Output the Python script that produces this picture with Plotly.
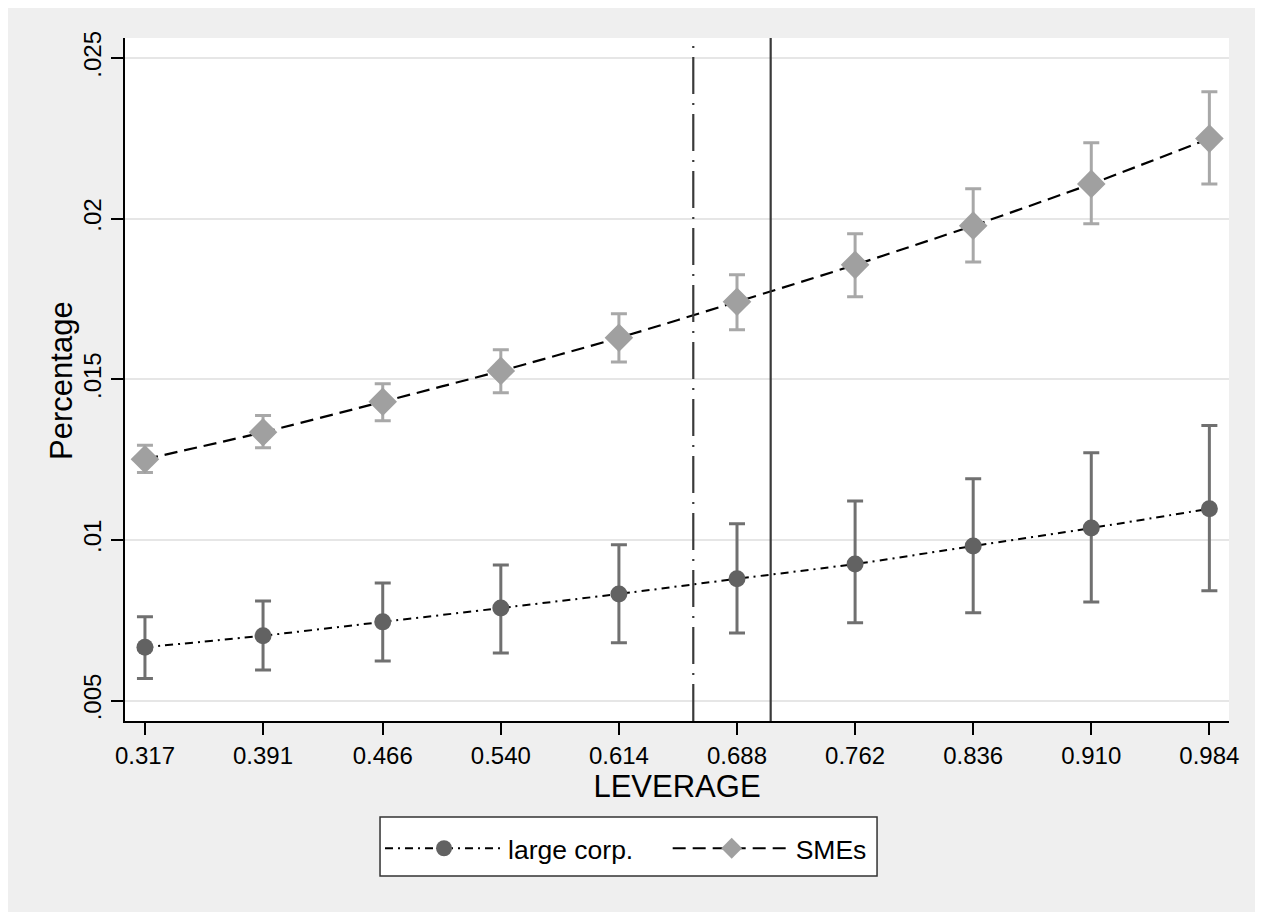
import plotly.graph_objects as go

leverage = [0.317, 0.391, 0.466, 0.540, 0.614, 0.688, 0.762, 0.836, 0.910, 0.984]
tick_labels = ["0.317", "0.391", "0.466", "0.540", "0.614", "0.688", "0.762", "0.836", "0.910", "0.984"]

large_mean = [0.00666, 0.00702, 0.00745, 0.00788, 0.00832, 0.00879, 0.00925, 0.00981, 0.01037, 0.01097]
large_hi = [0.00761, 0.00810, 0.00866, 0.00922, 0.00985, 0.01050, 0.01121, 0.01190, 0.01271, 0.01356]
large_lo = [0.00569, 0.00595, 0.00623, 0.00648, 0.00680, 0.00710, 0.00742, 0.00773, 0.00807, 0.00842]

sme_mean = [0.01251, 0.01335, 0.01430, 0.01526, 0.01629, 0.01741, 0.01856, 0.01978, 0.02108, 0.02249]
sme_hi = [0.01295, 0.01387, 0.01486, 0.01592, 0.01704, 0.01825, 0.01953, 0.02093, 0.02236, 0.02395]
sme_lo = [0.01210, 0.01287, 0.01371, 0.01458, 0.01554, 0.01654, 0.01757, 0.01865, 0.01984, 0.02108]

vline_dashdot = 0.6606
vline_solid = 0.7091

y_ticks = [0.005, 0.01, 0.015, 0.02, 0.025]
y_tick_text = [".005", ".01", ".015", ".02", ".025"]

FONT = "Liberation Sans, Arial, sans-serif"
NB = "\u00a0"

fig = go.Figure()

fig.add_trace(go.Scatter(
    x=leverage, y=large_mean, name="large corp." + NB * 4,
    mode="lines+markers",
    line=dict(color="black", width=2, dash="8px,5px,2px,5px", shape="spline", smoothing=0.6),
    marker=dict(symbol="circle", size=17, color="#626262"),
    error_y=dict(type="data", symmetric=False,
                 array=[h - m for h, m in zip(large_hi, large_mean)],
                 arrayminus=[m - l for m, l in zip(large_mean, large_lo)],
                 color="#707070", thickness=3, width=8),
))

fig.add_trace(go.Scatter(
    x=leverage, y=sme_mean, name="SMEs",
    mode="lines+markers",
    line=dict(color="black", width=2.2, dash="13px,7px", shape="spline", smoothing=0.6),
    marker=dict(symbol="diamond", size=22, color="#a0a0a0"),
    error_y=dict(type="data", symmetric=False,
                 array=[h - m for h, m in zip(sme_hi, sme_mean)],
                 arrayminus=[m - l for m, l in zip(sme_mean, sme_lo)],
                 color="#a8a8a8", thickness=3, width=8),
))

fig.add_shape(type="line", xref="x", yref="paper", x0=vline_dashdot, x1=vline_dashdot, y0=0, y1=1,
              line=dict(color="#3a3a3a", width=2.2, dash="37px,9px,2px,9px"))
fig.add_shape(type="line", xref="x", yref="paper", x0=vline_solid, x1=vline_solid, y0=0, y1=1,
              line=dict(color="#3a3a3a", width=2.2))

# legend frame
fig.add_shape(type="rect", xref="paper", yref="paper", x0=0.2310, x1=0.6812, y0=-0.2269, y1=-0.1406,
              fillcolor="white", line=dict(color="#333333", width=1.5), layer="below")

fig.add_annotation(text="Percentage", xref="paper", yref="paper", x=-0.0571, y=0.4993,
                   xanchor="center", yanchor="middle", textangle=-90, showarrow=False,
                   font=dict(size=31, family=FONT, color="black"))

fig.update_layout(
    width=1263, height=912,
    margin=dict(l=117, r=42, t=30, b=199),
    paper_bgcolor="#efefef",
    plot_bgcolor="white",
    font=dict(family=FONT, color="black", size=24),
    showlegend=True,
    legend=dict(
        orientation="h", x=0.2310, xanchor="left", y=-0.1867, yanchor="middle",
        bgcolor="rgba(0,0,0,0)", borderwidth=0,
        font=dict(size=26.5, family=FONT), itemwidth=118,
        tracegroupgap=0,
    ),
    xaxis=dict(
        range=[0.3045, 0.9963], tickmode="array", tickvals=leverage, ticktext=tick_labels,
        showgrid=False, zeroline=False, showline=True, linecolor="black", linewidth=2,
        ticks="outside", ticklen=12, tickwidth=2, tickcolor="black",
        tickfont=dict(size=24, family=FONT),
        title=dict(text="LEVERAGE", font=dict(size=31, family=FONT), standoff=0),
    ),
    yaxis=dict(
        range=[0.004365, 0.02562], tickmode="array", tickvals=y_ticks, ticktext=y_tick_text,
        tickangle=-90,
        showgrid=True, gridcolor="#e6e6e6", gridwidth=2, zeroline=False,
        showline=True, linecolor="black", linewidth=2,
        ticks="outside", ticklen=12, tickwidth=2, tickcolor="black",
        tickfont=dict(size=24, family=FONT),
    ),
)

fig.write_html("out.html")
